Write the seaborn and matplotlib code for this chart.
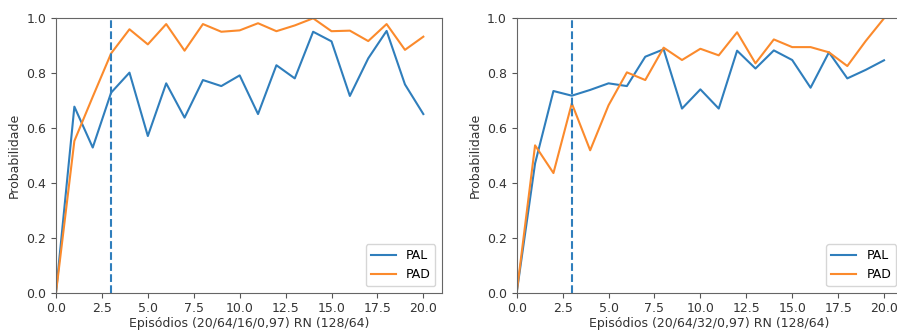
import matplotlib
matplotlib.use("Agg")
import matplotlib.pyplot as plt
import seaborn as sns
import pandas as pd

episodes = list(range(21))

pal_left = [0.0, 0.678, 0.529, 0.729, 0.802, 0.571, 0.763, 0.638, 0.775, 0.753, 0.792,
            0.651, 0.829, 0.781, 0.951, 0.916, 0.717, 0.854, 0.954, 0.759, 0.651]
pad_left = [0.0, 0.553, 0.714, 0.872, 0.960, 0.905, 0.979, 0.882, 0.979, 0.951, 0.956,
            0.982, 0.953, 0.974, 1.0, 0.953, 0.955, 0.917, 0.979, 0.885, 0.933]

pal_right = [0.0, 0.471, 0.735, 0.718, 0.739, 0.763, 0.753, 0.860, 0.887, 0.671, 0.741,
             0.671, 0.882, 0.817, 0.883, 0.848, 0.747, 0.876, 0.781, 0.812, 0.847]
pad_right = [0.0, 0.537, 0.436, 0.690, 0.519, 0.683, 0.803, 0.775, 0.893, 0.848, 0.889,
             0.865, 0.949, 0.836, 0.923, 0.895, 0.895, 0.876, 0.826, 0.917, 1.0]

series_names = ["PAL", "PAD"]
xlabels = ["Episódios (20/64/16/0,97) RN (128/64)", "Episódios (20/64/32/0,97) RN (128/64)"]
ylabel = "Probabilidade"
marker_episode = 3

plt.rcParams["font.family"] = ["DejaVu Sans"]
plt.rcParams["font.size"] = 9

fig = plt.figure(figsize=(8.97, 3.36), dpi=100)
W, H = 897, 336
ax1 = fig.add_axes([56 / W, 1 - 292.7 / H, 385.7 / W, 274.4 / H])
ax2 = fig.add_axes([516.7 / W, 1 - 292.7 / H, 385.7 / W, 274.4 / H])

palette = {"PAL": "#2f7ebc", "PAD": "#fb8a2c"}

for ax, pal, pad, xl in [(ax1, pal_left, pad_left, xlabels[0]),
                          (ax2, pal_right, pad_right, xlabels[1])]:
    df = pd.DataFrame({
        "Episode": episodes * 2,
        "Prob": pal + pad,
        "Serie": ["PAL"] * len(episodes) + ["PAD"] * len(episodes),
    })
    sns.lineplot(data=df, x="Episode", y="Prob", hue="Serie", palette=palette,
                 ax=ax, linewidth=1.5)
    ax.axvline(marker_episode, color="#2f7ebc", linestyle="--", linewidth=1.5)
    ax.set_xlim(0, 21)
    ax.set_ylim(0, 1)
    ax.set_xticks([0, 2.5, 5, 7.5, 10, 12.5, 15, 17.5, 20])
    ax.set_xlabel(xl, fontsize=9, labelpad=1, color="#333333")
    ax.set_ylabel(ylabel, fontsize=9, color="#333333")
    ax.tick_params(labelsize=9, labelcolor="#333333", color="#555555")
    for s in ax.spines.values():
        s.set_color("#666666")
    ax.legend(loc="lower right", fontsize=9, title=None)

fig.savefig("out.png", dpi=100)
